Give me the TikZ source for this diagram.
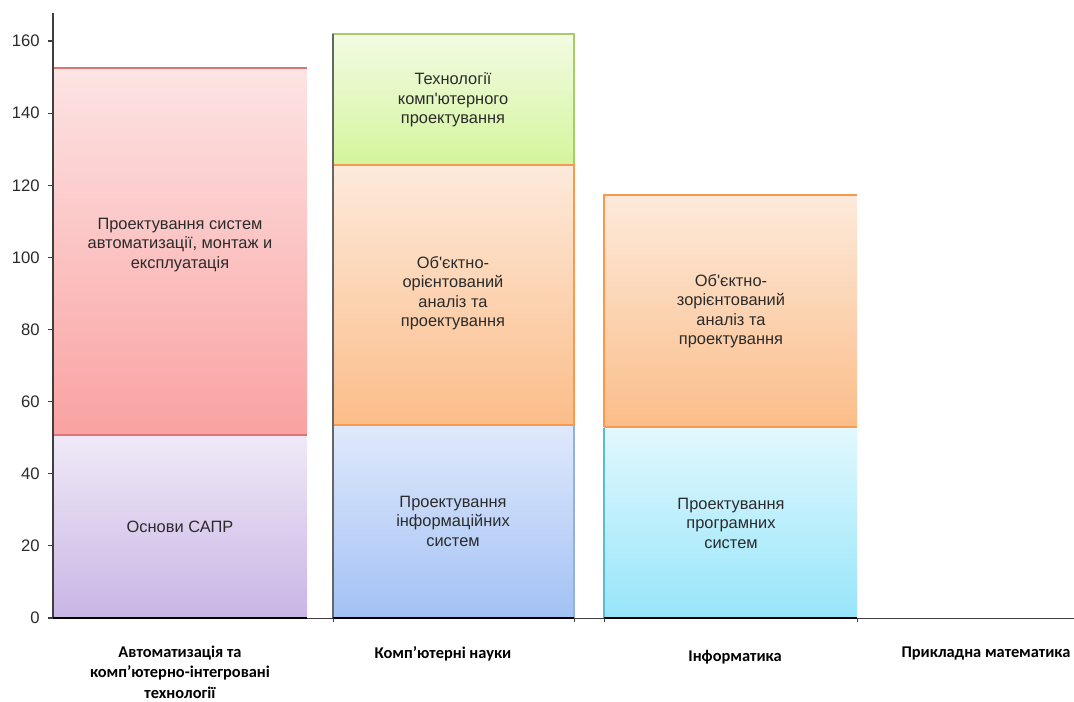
\documentclass[tikz,border=0pt]{standalone}
\usepackage{fontspec}
\setmainfont{Liberation Sans}
\newfontfamily\barfont{Liberation Sans}
\newfontfamily\catfont{Carlito}
\definecolor{txt}{HTML}{2B2B2B}
\definecolor{axisc}{HTML}{3F3F3F}
\definecolor{lavT}{HTML}{EFE9F7}
\definecolor{lavB}{HTML}{C9B5E5}
\definecolor{redT}{HTML}{FDE4E4}
\definecolor{redB}{HTML}{F9A2A1}
\definecolor{redE}{HTML}{DE7474}
\definecolor{grnT}{HTML}{F2FBE3}
\definecolor{grnB}{HTML}{D4F59C}
\definecolor{grnE}{HTML}{A5CD6A}
\definecolor{orT}{HTML}{FDEADB}
\definecolor{orB}{HTML}{FBBD89}
\definecolor{orE}{HTML}{F79A4E}
\definecolor{bluT}{HTML}{DFE9FB}
\definecolor{bluB}{HTML}{A3C1F5}
\definecolor{bluE}{HTML}{93B1D9}
\definecolor{cyT}{HTML}{E2F8FD}
\definecolor{cyB}{HTML}{96E5FA}
\definecolor{cyE}{HTML}{5BBBD3}
\tikzset{
  seglabel/.style={align=center, text=txt, font=\barfont\fontsize{12.3}{14.6}\selectfont, inner sep=0pt},
  catlabel/.style={align=center, text=black, font=\catfont\bfseries\fontsize{12.3}{15.4}\selectfont, inner sep=0pt},
  ticklabel/.style={anchor=east, text=txt, font=\barfont\fontsize{12.5}{14}\selectfont, inner sep=0pt},
  axisline/.style={draw=axisc, line width=0.9pt},
}
\begin{document}
\begin{tikzpicture}[x=0.75pt,y=-0.75pt]
\useasboundingbox (0,0) rectangle (1074,702);
\fill[white] (0,0) rectangle (1074,702);

% ---- bar 1
\shade[top color=lavT, bottom color=lavB] (53,435) rectangle (307,618);
\shade[top color=redT, bottom color=redB] (53,68) rectangle (307,435);
\draw[redE, line width=0.9pt] (53,68) -- (307,68);
\draw[redE, line width=0.9pt] (53,435) -- (307,435);

% ---- bar 2
\shade[top color=bluT, bottom color=bluB] (333,425) rectangle (574,618);
\shade[top color=orT, bottom color=orB] (333,165) rectangle (574,425);
\shade[top color=grnT, bottom color=grnB] (333,34) rectangle (574,165);
\draw[grnE, line width=0.9pt] (333,165) -- (333,34) -- (574,34) -- (574,165);
\draw[orE, line width=0.9pt] (333,425) -- (333,165) -- (574,165) -- (574,425) -- cycle;
\draw[bluE, line width=0.9pt] (333,618) -- (333,425) (574,425) -- (574,618);
\draw[black!60, line width=0.9pt] (333,618) -- (333,34);

% ---- bar 3
\shade[top color=cyT, bottom color=cyB] (604,427) rectangle (857,618);
\shade[top color=orT, bottom color=orB] (604,195) rectangle (857,427);
\draw[orE, line width=0.9pt] (604,427) -- (604,195) -- (857,195);
\draw[orE, line width=0.9pt] (604,427) -- (857,427);
\draw[cyE, line width=0.9pt] (604,618) -- (604,428);

% ---- axes
\coordinate (ytop) at (53,13);
\coordinate (orig) at (53,618);
\coordinate (xend) at (1074,618);
\draw[axisline] (ytop) -- (orig);
\draw[draw=axisc, line width=0.7pt] (48,618) -- (xend);
\draw[black, line width=1.6pt] (53,618) -- (307,618) (333,618) -- (574,618) (604,618) -- (857,618);
\foreach \v in {0,20,...,160} {
  \pgfmathsetmacro{\yy}{618-3.606*\v}
  \draw[axisline] (48,\yy) -- (53,\yy);
  \node[ticklabel] (t\v) at (40,\yy) {\v};
}
\foreach \xx in {333,574,604,857} {
  \draw[axisc, line width=0.7pt] (\xx,618) -- (\xx,622);
}

% ---- segment labels
\node[seglabel] (s1a) at (180,527) {Основи САПР};
\node[seglabel] (s1b) at (180,245) {Проектування систем\\автоматизації, монтаж и\\експлуатація};
\node[seglabel] (s2a) at (453,521) {Проектування\\інформаційних\\систем};
\node[seglabel] (s2b) at (453,293) {Об'єктно-\\орієнтований\\аналіз та\\проектування};
\node[seglabel] (s2c) at (453,100) {Технології\\комп'ютерного\\проектування};
\node[seglabel] (s3a) at (731,523) {Проектування\\програмних\\систем};
\node[seglabel] (s3b) at (731,311) {Об'єктно-\\зорієнтований\\аналіз та\\проектування};

% ---- category labels
\node[catlabel] (c1) at (180,672) {Автоматизація та\\комп’ютерно-інтегровані\\технології};
\node[catlabel] (c2) at (443,654) {Комп’ютерні науки};
\node[catlabel] (c3) at (735,657) {Інформатика};
\node[catlabel] (c4) at (986,653) {Прикладна математика};
\end{tikzpicture}
\end{document}
